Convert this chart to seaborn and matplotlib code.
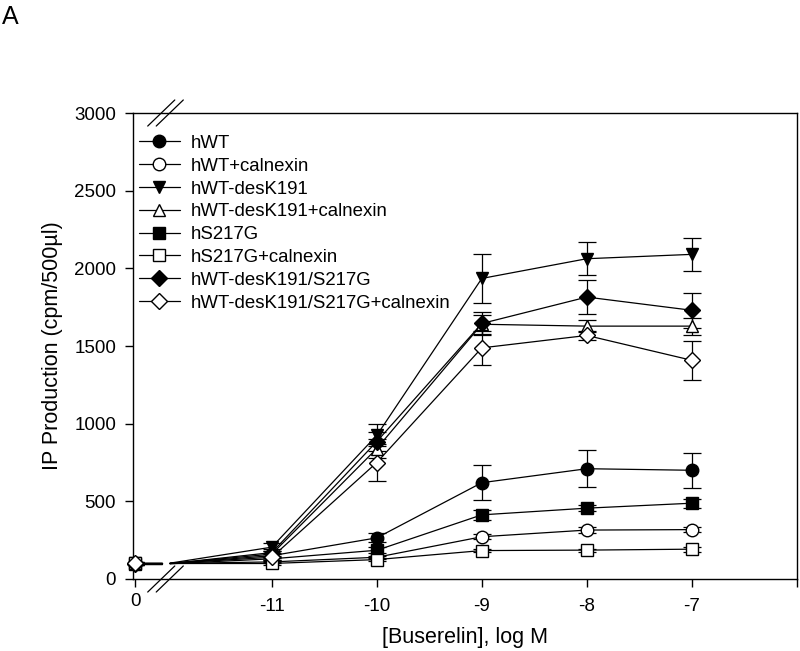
import numpy as np
import pandas as pd
import matplotlib
matplotlib.use("Agg")
import matplotlib.pyplot as plt
import matplotlib.transforms as mtransforms
import seaborn as sns

# ---------------- data ----------------
doses = [-11, -10, -9, -8, -7]
x_tick_labels = ["0", "-11", "-10", "-9", "-8", "-7", ""]
y_ticks = [0, 500, 1000, 1500, 2000, 2500, 3000]

series = ["hWT", "hWT+calnexin", "hWT-desK191", "hWT-desK191+calnexin",
          "hS217G", "hS217G+calnexin", "hWT-desK191/S217G",
          "hWT-desK191/S217G+calnexin"]

ctrl_vals = [100, 100, 102, 100, 98, 100, 99, 101]
ctrl_errs = [8, 6, 8, 6, 6, 5, 6, 8]

vals_hWT = [150, 265, 620, 710, 700]
vals_hWT_cnx = [110, 140, 272, 315, 318]
vals_desK = [205, 925, 1935, 2062, 2090]
vals_desK_cnx = [160, 840, 1640, 1628, 1628]
vals_S217G = [130, 185, 413, 456, 488]
vals_S217G_cnx = [100, 125, 183, 186, 192]
vals_dbl = [170, 885, 1645, 1815, 1730]
vals_dbl_cnx = [140, 750, 1488, 1568, 1408]

errs_hWT = [15, 30, 112, 120, 112]
errs_hWT_cnx = [10, 10, 15, 20, 15]
errs_desK = [25, 70, 158, 108, 108]
errs_desK_cnx = [20, 60, 60, 40, 55]
errs_S217G = [12, 20, 30, 20, 28]
errs_S217G_cnx = [8, 10, 12, 10, 15]
errs_dbl = [20, 60, 75, 108, 112]
errs_dbl_cnx = [20, 120, 108, 30, 125]

all_vals = [vals_hWT, vals_hWT_cnx, vals_desK, vals_desK_cnx,
            vals_S217G, vals_S217G_cnx, vals_dbl, vals_dbl_cnx]
all_errs = [errs_hWT, errs_hWT_cnx, errs_desK, errs_desK_cnx,
            errs_S217G, errs_S217G_cnx, errs_dbl, errs_dbl_cnx]

# ---------------- style ----------------
markers = ["o", "o", "v", "^", "s", "s", "D", "D"]
filled = [True, False, True, False, True, False, True, False]
msizes = [9, 9, 9, 9, 8, 8, 8, 8]

sns.set_style("ticks")
plt.rcParams["font.family"] = ["Liberation Sans", "DejaVu Sans"]
plt.rcParams["font.size"] = 13
for key in ["text.color", "axes.labelcolor", "xtick.color", "ytick.color",
            "axes.edgecolor"]:
    plt.rcParams[key] = "black"

fig = plt.figure(figsize=(8.0, 6.51), dpi=100)
ax = fig.add_axes([0.166, 0.1106, 0.830, 0.7158])

ctrl_pos = -12.3          # position where the "0" dose is drawn
brk_left = -12.05         # end of control segment
brk_right = -11.97        # start of segment toward first dose
xmin, xmax = -12.324, -6.0

for i, name in enumerate(series):
    fc = "black" if filled[i] else "white"
    df = pd.DataFrame({"dose": doses, "ip": all_vals[i]})
    ax.plot([ctrl_pos, brk_left], [ctrl_vals[i], ctrl_vals[i]],
            color="black", lw=0.9, zorder=2)
    ax.plot([brk_right, doses[0]], [ctrl_vals[i], all_vals[i][0]],
            color="black", lw=0.9, zorder=2)
    ax.errorbar(doses, all_vals[i], yerr=all_errs[i], fmt="none",
                ecolor="black", elinewidth=0.9, capsize=6.5, capthick=0.9,
                zorder=3)
    ax.errorbar([ctrl_pos], [ctrl_vals[i]], yerr=[ctrl_errs[i]], fmt="none",
                ecolor="black", elinewidth=0.9, capsize=6.5, capthick=0.9,
                zorder=3)
    sns.lineplot(data=df, x="dose", y="ip", ax=ax, color="black",
                 lw=0.9, marker=markers[i], markersize=msizes[i],
                 markerfacecolor=fc, markeredgecolor="black",
                 markeredgewidth=1.0, label=name, zorder=4)
    ax.plot([ctrl_pos], [ctrl_vals[i]], marker=markers[i],
            markersize=msizes[i], markerfacecolor=fc,
            markeredgecolor="black", markeredgewidth=1.0, ls="none",
            zorder=5, clip_on=False)

ax.set_xlim(xmin, xmax)
ax.set_ylim(0, 3000)
ax.set_yticks(y_ticks)
ax.set_xticks([ctrl_pos] + doses + [-6])
ax.set_xticklabels(x_tick_labels)

for s in ["top", "right", "left", "bottom"]:
    ax.spines[s].set_visible(True)
    ax.spines[s].set_linewidth(1.0)
    ax.spines[s].set_color("black")
ax.tick_params(axis="both", direction="out", length=6, width=1.0,
               color="black", labelcolor="black", labelsize=13.5, pad=6)
ax.tick_params(axis="x", pad=8)

lab0 = ax.get_xticklabels()[0]
lab0.set_transform(lab0.get_transform() +
                   mtransforms.ScaledTranslation(0, 4 / 72, fig.dpi_scale_trans))

ax.set_ylabel("IP Production (cpm/500\u00b5l)", fontsize=15.5, labelpad=8,
              color="black")
ax.set_xlabel("[Buserelin], log M", fontsize=15.5, labelpad=8, color="black")

# axis break marks
trans = mtransforms.blended_transform_factory(ax.transData, ax.transAxes)
dx = 0.129
dy = 0.028
for xc in (-12.053, -11.972):
    for yc in (0.0, 1.0):
        ax.plot([xc - dx, xc + dx], [yc - dy, yc + dy], transform=trans,
                color="black", lw=0.9, clip_on=False, zorder=6)

leg = ax.legend(loc="upper left", bbox_to_anchor=(-0.008, 0.977),
                frameon=False, fontsize=13.4, handlelength=2.2,
                handletextpad=0.6, labelspacing=0.31, borderaxespad=0.2)
for t in leg.get_texts():
    t.set_color("black")

fig.text(0.002, 0.992, "A", fontsize=18, ha="left", va="top", color="black")

fig.savefig("out.png", dpi=100)
